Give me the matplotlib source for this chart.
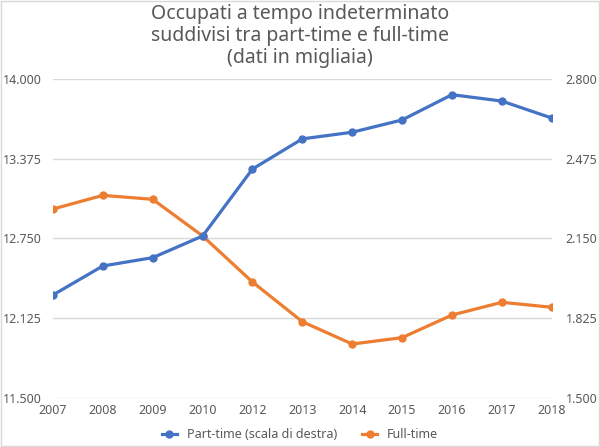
import matplotlib
matplotlib.use('Agg')
import matplotlib.pyplot as plt
from matplotlib.ticker import FuncFormatter
from matplotlib.patches import Rectangle

years = ['2007', '2008', '2009', '2010', '2012', '2013', '2014', '2015', '2016', '2017', '2018']
part_time = [1920, 2038, 2072, 2160, 2433, 2556, 2583, 2633, 2736, 2710, 2641]
full_time = [12981, 13088, 13057, 12770, 12409, 12098, 11923, 11973, 12150, 12250, 12211]

left_ticks = [11500, 12125, 12750, 13375, 14000]
right_ticks = [1500, 1825, 2150, 2475, 2800]

blue = '#4472C4'
orange = '#ED7D31'
grey = '#595959'

plt.rcParams['font.family'] = ['Noto Sans', 'DejaVu Sans']

def fmt_it(v, pos=None):
    return '{:,.0f}'.format(v).replace(',', '.')

fig = plt.figure(figsize=(6, 4.47), dpi=100)
ax = fig.add_axes([0.0883, 0.1096, 0.8312, 0.7137])
ax2 = ax.twinx()

xs = list(range(len(years)))
l1, = ax2.plot(xs, part_time, color=blue, lw=2.3, marker='o', ms=5, label='Part-time (scala di destra)')
l2, = ax.plot(xs, full_time, color=orange, lw=2.3, marker='o', ms=5, label='Full-time')

ax.set_ylim(11500, 14000)
ax2.set_ylim(1500, 2800)
ax.set_yticks(left_ticks)
ax2.set_yticks(right_ticks)
ax.yaxis.set_major_formatter(FuncFormatter(fmt_it))
ax2.yaxis.set_major_formatter(FuncFormatter(fmt_it))
ax.set_xlim(0, len(years) - 1)
ax.set_xticks(xs)
ax.set_xticklabels(years)

ax.grid(axis='y', color='#D9D9D9', lw=1)
ax.set_axisbelow(True)
for a in (ax, ax2):
    for s in a.spines.values():
        s.set_visible(False)
    a.tick_params(length=0, labelsize=9, colors=grey)
ax.tick_params(axis='y', pad=36)
for t in ax.get_yticklabels():
    t.set_horizontalalignment('left')
ax2.tick_params(axis='y', pad=10)
ax.tick_params(axis='x', pad=4)

fig.suptitle('Occupati a tempo indeterminato\nsuddivisi tra part-time e full-time\n(dati in migliaia)',
             y=0.99, fontsize=14, color=grey, linespacing=1.12)

fig.legend([l1, l2], [l1.get_label(), l2.get_label()], loc='center', bbox_to_anchor=(0.5, 0.027),
           ncol=2, frameon=False, fontsize=9, labelcolor=grey, handlelength=1.2, columnspacing=2)

fig.patches.append(Rectangle((0.002, 0.002), 0.996, 0.996, transform=fig.transFigure,
                             fill=False, edgecolor='#D9D9D9', lw=1))

fig.savefig('out.png', dpi=100)
